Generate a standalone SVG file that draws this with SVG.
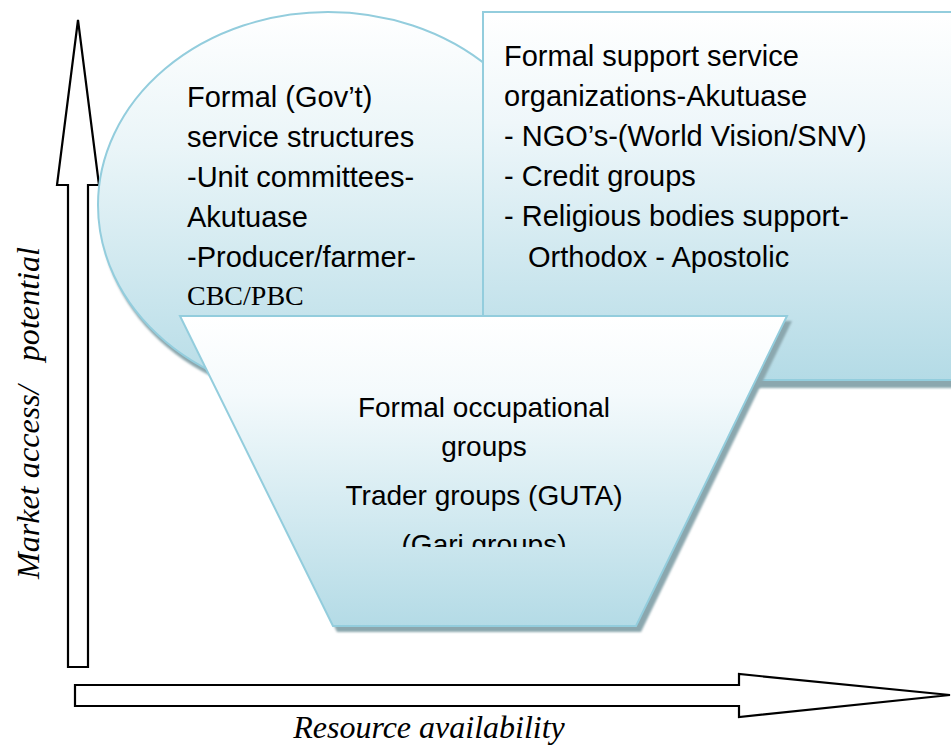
<svg xmlns="http://www.w3.org/2000/svg" width="951" height="746" viewBox="0 0 951 746">
<style>
.shape{stroke:#93cddd;stroke-width:2}
.shadow{fill:#8ba7ae}
.t{font-family:"Liberation Sans",Arial,sans-serif;font-size:29px;fill:#000}
.tc{font-family:"Liberation Sans",Arial,sans-serif;font-size:28px;fill:#000;text-anchor:middle}
.ser{font-family:"Liberation Serif","Times New Roman",serif;font-size:28px;fill:#000}
.ax{font-family:"Liberation Serif","Times New Roman",serif;font-style:italic;font-size:32px;fill:#000}
.arrow{fill:#fff;stroke:#000;stroke-width:2.2;stroke-linejoin:miter}
</style>
<defs>
<linearGradient id="gE" x1="0" y1="0" x2="0" y2="1">
<stop offset="0" stop-color="#ffffff"/>
<stop offset="0.35" stop-color="#eaf5f8"/>
<stop offset="1" stop-color="#b4dbe6"/>
</linearGradient>
<linearGradient id="gR" x1="0" y1="0" x2="0" y2="1">
<stop offset="0" stop-color="#ffffff"/>
<stop offset="0.3" stop-color="#eff7fa"/>
<stop offset="1" stop-color="#b4dbe6"/>
</linearGradient>
<linearGradient id="gT" x1="0" y1="0" x2="0" y2="1">
<stop offset="0" stop-color="#ffffff"/>
<stop offset="0.25" stop-color="#f4fafc"/>
<stop offset="1" stop-color="#b4dbe6"/>
</linearGradient>
<filter id="blur" x="-5%" y="-5%" width="110%" height="110%">
<feGaussianBlur stdDeviation="1.2"/>
</filter>
<clipPath id="clipT">
<rect x="180" y="316" width="610" height="231"/>
</clipPath>
</defs>

<g id="axes">
<g id="y-axis">
<polygon class="arrow" points="78,20 99,185 88,185 88,667 68,667 68,185 57,185"/>
<text class="ax" transform="translate(39,413) rotate(-90)" text-anchor="middle" textLength="332" lengthAdjust="spacingAndGlyphs" xml:space="preserve">Market access/   potential</text>
</g>
<g id="x-axis">
<polygon class="arrow" points="75,685 739,685 739,674 950,695 739,717 739,706 75,706"/>
<text class="ax" x="429" y="738" text-anchor="middle">Resource availability</text>
</g>
</g>

<g id="gov-structures">
<ellipse class="shadow" cx="330" cy="211" rx="230" ry="193" filter="url(#blur)"/>
<ellipse class="shape" cx="328" cy="205" rx="230" ry="193" fill="url(#gE)"/>
</g>

<g id="support-organizations">
<rect class="shadow" x="486" y="18" width="470" height="370" filter="url(#blur)"/>
<rect class="shape" x="483" y="12" width="470" height="368" fill="url(#gR)"/>
<text class="t" x="504" y="66">Formal support service</text>
<text class="t" x="504" y="106">organizations-Akutuase</text>
<text class="t" x="504" y="146">- NGO’s-(World Vision/SNV)</text>
<text class="t" x="504" y="186">- Credit groups</text>
<text class="t" x="504" y="226">- Religious bodies support-</text>
<text class="t" x="528" y="267">Orthodox - Apostolic</text>
</g>

<g id="gov-text">
<text class="t" x="187" y="107">Formal (Gov’t)</text>
<text class="t" x="187" y="147">service structures</text>
<text class="t" x="187" y="187">-Unit committees-</text>
<text class="t" x="187" y="227">Akutuase</text>
<text class="t" x="187" y="267">-Producer/farmer-</text>
<text class="ser" x="187" y="305">CBC/PBC</text>
</g>

<g id="occupational-groups">
<polygon class="shadow" points="184,321 792,321 641,632 337,632" filter="url(#blur)"/>
<polygon class="shape" points="180,316 787,316 636,626 333,626" fill="url(#gT)"/>
<g clip-path="url(#clipT)">
<text class="tc" x="484" y="417">Formal occupational</text>
<text class="tc" x="484" y="456">groups</text>
<text class="tc" x="484" y="505">Trader groups (GUTA)</text>
<text class="tc" x="484" y="554">(Gari groups)</text>
</g>
</g>
</svg>
